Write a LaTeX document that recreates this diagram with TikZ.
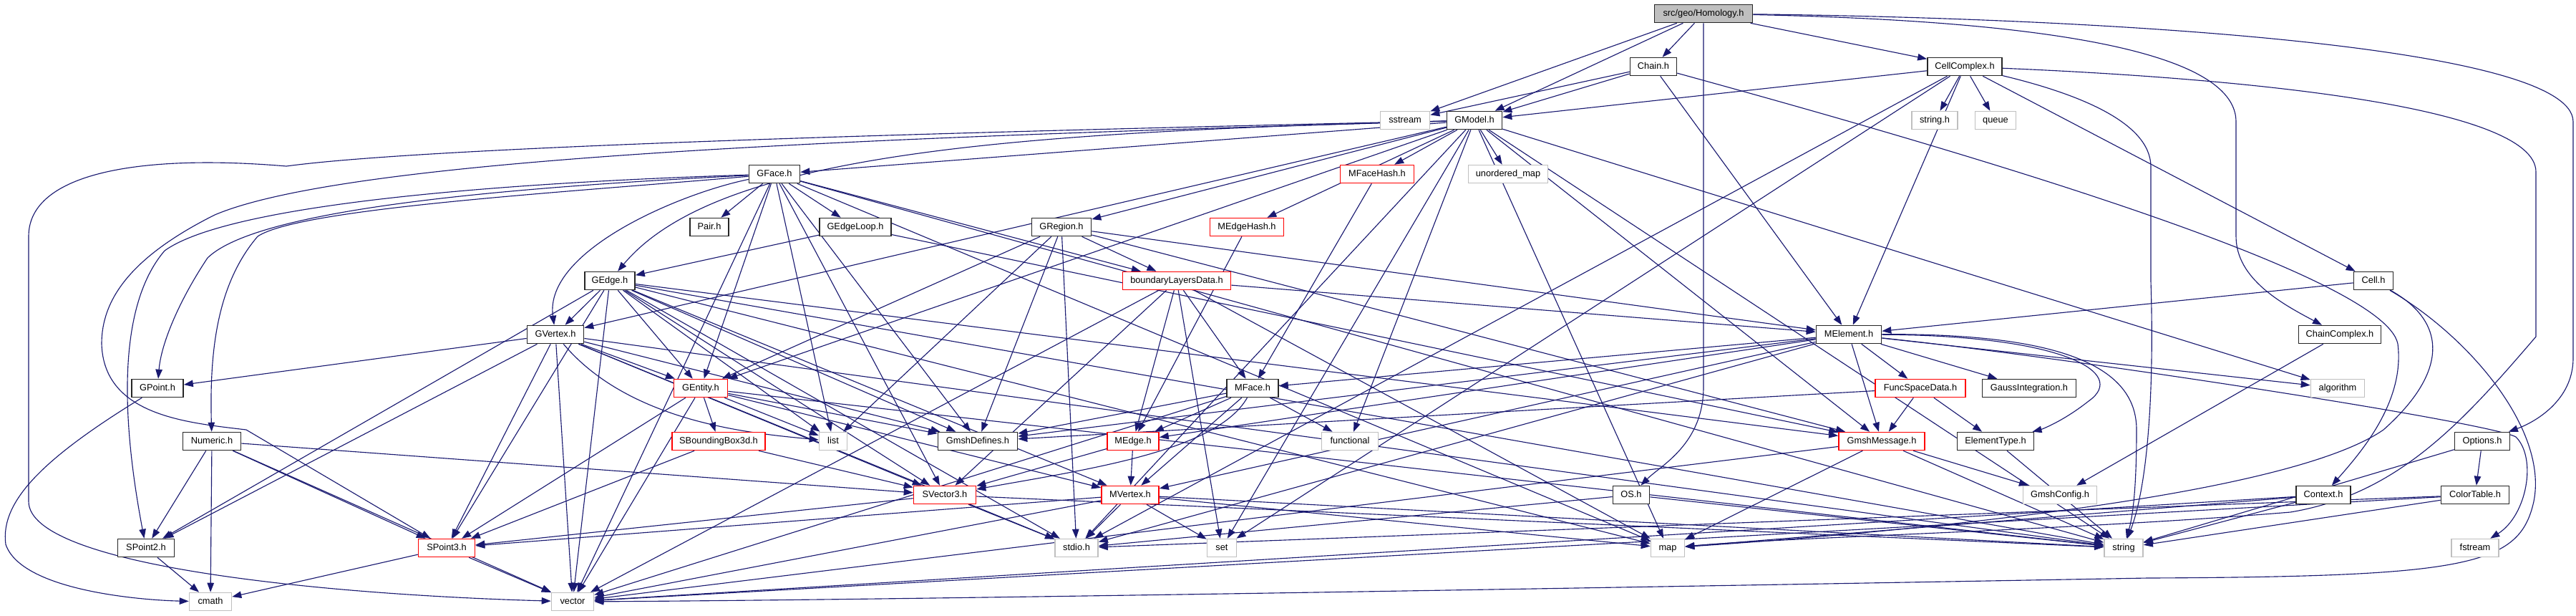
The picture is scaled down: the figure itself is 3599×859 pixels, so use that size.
\documentclass[tikz,border=0pt]{standalone}
\usepackage{fontspec}
\setmainfont{Liberation Sans}
\usetikzlibrary{arrows.meta}
\definecolor{ecol}{HTML}{191970}
\definecolor{gcol}{HTML}{BFBFBF}
\pgfdeclarelayer{bg}
\pgfsetlayers{bg,main}
\tikzset{
 box/.style={fill=white, line width=0.45pt, minimum height=0.25cm, inner xsep=0pt, inner ysep=0pt,
   font=\fontsize{3.64}{4.4}\selectfont, text height=2.6pt, text depth=0.75pt},
 nb/.style={box, draw=black!85},
 nr/.style={box, draw=red},
 ng/.style={box, draw=gcol},
 nroot/.style={box, draw=black!85, fill=gcol},
 e/.style={draw=ecol, line width=0.32pt, -{Triangle[length=0.13cm,width=0.095cm]}}
}
\begin{document}
\begin{tikzpicture}[x=0.01cm,y=-0.01cm]
\useasboundingbox (0,0) rectangle (3599,859);
% nodes
\node[nroot,minimum width=1.37cm] (hom) at (2380,19) {src/geo/Homology.h};
\node[nb,minimum width=0.65cm] (chain) at (2310,93) {Chain.h};
\node[ng,minimum width=0.69cm] (sstream) at (1963,168) {sstream};
\node[nb,minimum width=0.77cm] (gmodel) at (2060,168) {GModel.h};
\node[nr,minimum width=1.03cm] (mfacehash) at (1924,243) {MFaceHash.h};
\node[ng,minimum width=1.11cm] (umap) at (2107,243) {unordered\_map};
\node[nb,minimum width=1.04cm] (cellcx) at (2745,93) {CellComplex.h};
\node[ng,minimum width=0.64cm] (stringh) at (2703,168) {string.h};
\node[ng,minimum width=0.57cm] (queue) at (2788,168) {queue};
\node[nb,minimum width=0.55cm] (cell) at (3316,392) {Cell.h};
\node[nb,minimum width=0.71cm] (gface) at (1082,243) {GFace.h};
\node[nb,minimum width=0.54cm] (pair) at (991,317) {Pair.h};
\node[nb,minimum width=1.00cm] (gedgeloop) at (1195,317) {GEdgeLoop.h};
\node[nb,minimum width=0.70cm] (gedge) at (852,392) {GEdge.h};
\node[nb,minimum width=0.83cm] (gregion) at (1483,317) {GRegion.h};
\node[nr,minimum width=1.03cm] (medgehash) at (1742,317) {MEdgeHash.h};
\node[nr,minimum width=1.51cm] (bld) at (1644,392) {boundaryLayersData.h};
\node[nb,minimum width=0.72cm] (gpoint) at (220,542) {GPoint.h};
\node[nb,minimum width=0.81cm] (numeric) at (296,616) {Numeric.h};
\node[nb,minimum width=0.79cm] (spoint2) at (204,765) {SPoint2.h};
\node[ng,minimum width=0.59cm] (cmath) at (294,840) {cmath};
\node[nb,minimum width=0.79cm] (gvertex) at (776,467) {GVertex.h};
\node[nr,minimum width=0.75cm] (gentity) at (979,542) {GEntity.h};
\node[nr,minimum width=1.30cm] (sbb) at (1004,616) {SBoundingBox3d.h};
\node[ng,minimum width=0.39cm] (list) at (1164,616) {list};
\node[nr,minimum width=0.79cm] (spoint3) at (624,765) {SPoint3.h};
\node[ng,minimum width=0.59cm] (vector) at (800,840) {vector};
\node[nb,minimum width=1.11cm] (gmshdef) at (1366,616) {GmshDefines.h};
\node[nr,minimum width=0.72cm] (medge) at (1583,616) {MEdge.h};
\node[nb,minimum width=0.72cm] (mface) at (1750,542) {MFace.h};
\node[nr,minimum width=0.87cm] (svector3) at (1320,691) {SVector3.h};
\node[nr,minimum width=0.80cm] (mvertex) at (1579,691) {MVertex.h};
\node[ng,minimum width=0.60cm] (stdio) at (1504,765) {stdio.h};
\node[ng,minimum width=0.41cm] (set) at (1707,765) {set};
\node[ng,minimum width=0.79cm] (functional) at (1886,616) {functional};
\node[nb,minimum width=0.51cm] (os) at (2279,691) {OS.h};
\node[ng,minimum width=0.47cm] (map) at (2330,765) {map};
\node[nb,minimum width=0.91cm] (melement) at (2583,467) {MElement.h};
\node[nr,minimum width=1.26cm] (funcspace) at (2683,542) {FuncSpaceData.h};
\node[nb,minimum width=1.31cm] (gauss) at (2835,542) {GaussIntegration.h};
\node[nr,minimum width=1.20cm] (gmshmsg) at (2629,616) {GmshMessage.h};
\node[nb,minimum width=1.07cm] (elemtype) at (2788,616) {ElementType.h};
\node[ng,minimum width=1.03cm] (gmshconfig) at (2878,691) {GmshConfig.h};
\node[ng,minimum width=0.54cm] (string) at (2967,765) {string};
\node[nb,minimum width=1.15cm] (chaincx) at (3269,467) {ChainComplex.h};
\node[ng,minimum width=0.75cm] (algorithm) at (3266,542) {algorithm};
\node[nb,minimum width=0.77cm] (options) at (3468,616) {Options.h};
\node[nb,minimum width=0.76cm] (context) at (3246,691) {Context.h};
\node[nb,minimum width=0.95cm] (colortable) at (3458,691) {ColorTable.h};
\node[ng,minimum width=0.66cm] (fstream) at (3458,765) {fstream};
% edges
\begin{pgfonlayer}{bg}
\foreach \a/\b in {hom/sstream, hom/gmodel, hom/chain, hom/cellcx,
 chain/sstream, chain/gmodel, chain/melement,
 cellcx/gmodel, cellcx/stringh, cellcx/queue, cellcx/cell, cellcx/melement, cellcx/stdio, cellcx/set,
 cell/melement, chaincx/gmshconfig,
 options/colortable, options/string,
 colortable/string, colortable/stdio, colortable/vector,
 context/string, context/map, context/vector,
 os/stdio, os/string,
 gmodel/gface, gmodel/gvertex, gmodel/gregion, gmodel/gentity, gmodel/mfacehash, gmodel/umap, gmodel/medgehash, gmodel/functional, gmodel/map, gmodel/algorithm, gmodel/gmshmsg, gmodel/set, gmodel/string, gmodel/stdio,
 gface/gentity, gface/gedgeloop, gface/pair, gface/list, gface/svector3, gface/bld, gface/gmshdef, gface/vector, gface/map, gface/string,
 gedgeloop/gedge, gedgeloop/gmshmsg,
 gedge/gvertex, gedge/gentity, gedge/spoint2, gedge/spoint3, gedge/vector, gedge/list, gedge/gmshdef, gedge/svector3, gedge/mvertex, gedge/stdio, gedge/string, gedge/map, gedge/gmshmsg,
 gvertex/gentity, gvertex/gpoint, gvertex/spoint2, gvertex/spoint3, gvertex/vector, gvertex/stdio, gvertex/svector3, gvertex/gmshdef, gvertex/string,
 gregion/gentity, gregion/bld, gregion/list, gregion/gmshdef, gregion/stdio, gregion/melement, gregion/gmshmsg,
 bld/melement, bld/medge, bld/mface, bld/svector3, bld/set, bld/map, bld/vector,
 medgehash/medge, mfacehash/mface,
 gentity/sbb, gentity/list, gentity/vector, gentity/spoint3, gentity/mvertex, gentity/gmshdef, gentity/string,
 sbb/spoint3, sbb/svector3,
 numeric/spoint2, numeric/cmath, numeric/spoint3, numeric/vector, numeric/svector3,
 spoint2/cmath, spoint3/cmath, spoint3/vector,
 svector3/spoint3, svector3/stdio, svector3/string,
 mface/medge, mface/mvertex, mface/gmshdef, mface/functional, mface/vector,
 medge/mvertex, medge/svector3,
 mvertex/spoint3, mvertex/stdio, mvertex/set, mvertex/map, mvertex/vector, mvertex/string,
 melement/mface, melement/medge, melement/mvertex, melement/gmshdef, melement/stdio, melement/funcspace, melement/gmshmsg, melement/gauss, melement/algorithm,
 funcspace/gmshdef, funcspace/gmshmsg, funcspace/elemtype,
 gmshmsg/gmshconfig, gmshmsg/string, gmshmsg/map, gmshmsg/vector,
 elemtype/string}
 \draw[e] (\a) -- (\b);
% routed curves
\draw[e] (gmodel) .. controls (1400,185) and (1000,215) .. (gedge);
\draw[e] (gface) .. controls (950,270) and (760,350) .. (gvertex);
\draw[e] (gvertex) .. controls (880,590) and (1050,605) .. (list);
\draw[e] (mface) .. controls (1700,630) and (1520,655) .. (svector3);
\draw[e] (melement) .. controls (2880,468) and (2975,520) .. (2918,560) .. controls (2880,590) and (2850,600) .. (elemtype);
\draw[e] (melement) .. controls (2900,465) and (2985,520) .. (2985,600) .. controls (2985,680) and (2980,720) .. (string);
\coordinate (lv1) at (40,330); \coordinate (lv2) at (40,700);
\draw[e] (gmodel) .. controls (1300,185) and (600,205) .. (400,232) .. controls (200,215) and (40,240) .. (lv1) -- (lv2) .. controls (40,790) and (450,830) .. (vector);
\coordinate (ls1) at (142,480);
\draw[e] (gmodel) .. controls (1300,190) and (500,215) .. (300,300) .. controls (180,360) and (142,420) .. (ls1) .. controls (145,580) and (260,590) .. (344,600) -- (spoint3);
\coordinate (lg1) at (230,350);
\draw[e] (gface) .. controls (700,255) and (320,285) .. (lg1) .. controls (170,420) and (165,560) .. (spoint2);
\coordinate (lg2) at (290,360);
\draw[e] (gface) .. controls (700,262) and (360,292) .. (lg2) .. controls (250,420) and (225,480) .. (gpoint);
\coordinate (lg3) at (360,330);
\draw[e] (gface) .. controls (800,268) and (420,290) .. (lg3) .. controls (300,400) and (293,500) .. (numeric);
\coordinate (lc1) at (8,760);
\draw[e] (gpoint) .. controls (60,640) and (0,700) .. (lc1) .. controls (30,825) and (200,838) .. (cmath);
\coordinate (ro1) at (3595,170); \coordinate (ro2) at (3595,500);
\draw[e] (hom) .. controls (2900,25) and (3595,60) .. (ro1) -- (ro2) .. controls (3595,560) and (3540,590) .. (options);
\coordinate (rc1) at (3124,170); \coordinate (rc2) at (3124,330);
\draw[e] (hom) .. controls (2900,30) and (3124,80) .. (rc1) -- (rc2) .. controls (3124,390) and (3190,425) .. (chaincx);
\coordinate (ho1) at (2380,540);
\draw[e] (hom.south) -- (ho1) .. controls (2380,620) and (2320,650) .. (os);
\coordinate (rm1) at (3543,240); \coordinate (rm2) at (3543,470);
\draw[e] (cellcx) .. controls (3150,110) and (3543,150) .. (rm1) -- (rm2) .. controls (3440,590) and (3350,690) .. (3200,715) .. controls (2900,740) and (2500,750) .. (map);
\coordinate (rs1) at (3005,233); \coordinate (rs2) at (3005,393);
\draw[e] (cellcx) .. controls (2900,130) and (3005,170) .. (rs1) -- (rs2) .. controls (3010,550) and (3000,680) .. (string);
\coordinate (cc1) at (3350,480);
\draw[e] (chain) .. controls (2700,200) and (3330,380) .. (cc1) .. controls (3360,560) and (3300,630) .. (context);
\coordinate (cv1) at (3540,700);
\draw[e] (cell) .. controls (3450,470) and (3560,600) .. (cv1) .. controls (3520,790) and (3450,805) .. (3000,807) .. controls (2000,825) and (1200,838) .. (vector);
\draw[e] (cell) .. controls (3420,450) and (3420,520) .. (3330,600) .. controls (3200,690) and (2700,740) .. (map);
\coordinate (mf1) at (3515,610);
\draw[e] (melement) .. controls (2900,500) and (3480,590) .. (mf1) .. controls (3545,640) and (3530,720) .. (fstream);
\end{pgfonlayer}
\end{tikzpicture}
\end{document}
